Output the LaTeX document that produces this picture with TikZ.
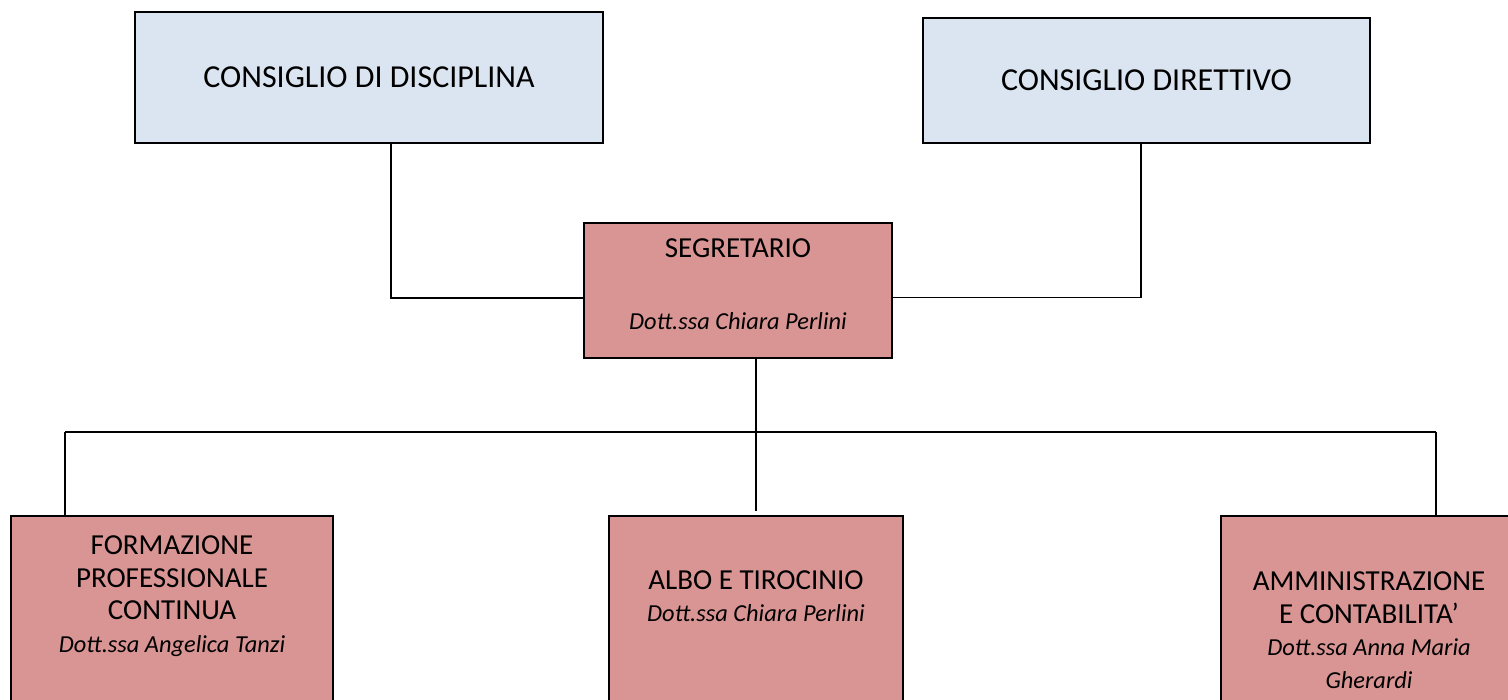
\documentclass[tikz,border=0pt]{standalone}
\usepackage{fontspec}
\setmainfont{Carlito}
\usetikzlibrary{positioning}
\definecolor{boardblue}{HTML}{DBE5F1}
\definecolor{officepink}{HTML}{D99594}
\newcommand{\officename}[1]{{\fontsize{12.2}{15}\selectfont\itshape #1}}
\begin{document}
\begin{tikzpicture}[x=0.5pt,y=-0.5pt,
        boardbox/.style={draw,line width=1.2pt,fill=boardblue,inner sep=0pt,font=\fontsize{16}{19}\selectfont},
        officebox/.style={draw,line width=1.2pt,fill=officepink,inner sep=0pt,align=center,font=\fontsize{14.5}{16.5}\selectfont},
        officetext/.style={align=center,inner sep=0pt,font=\fontsize{14.5}{16.3}\selectfont},
        link/.style={line width=0.9pt}]
    \useasboundingbox[fill=white](0,0)rectangle(1508,700);
    \clip(0,0)rectangle(1508,700);
    % consigli
    \node[boardbox,minimum width=234pt,minimum height=65.5pt] (disc) at (369,77.5) {CONSIGLIO DI DISCIPLINA};
    \node[boardbox,minimum width=223.5pt,minimum height=62.5pt] (dir) at (1146.5,80.5) {CONSIGLIO DIRETTIVO};
    % segretario
    \node[officebox,minimum width=154pt,minimum height=67.5pt,text depth=6pt] (seg) at (738,290.5) {SEGRETARIO\\[19.5pt]\officename{Dott.ssa Chiara Perlini}};
    % uffici (tagliati in basso)
    \node[officebox,minimum width=161pt,minimum height=112pt] (fpc) at (172,628) {};
    \node[officebox,minimum width=147pt,minimum height=112pt] (albo) at (756,628) {};
    \node[officebox,minimum width=148pt,minimum height=112pt] (amm) at (1369,628) {};
    \node[officetext] (fpctext) at (172,596) {FORMAZIONE\\PROFESSIONALE\\CONTINUA\\\officename{Dott.ssa Angelica Tanzi}};
    \node[officetext] (albotext) at (756,596) {ALBO E TIROCINIO\\\officename{Dott.ssa Chiara Perlini}};
    \node[officetext] (ammtext) at (1369,630) {AMMINISTRAZIONE\\E CONTABILITA'\\\officename{Dott.ssa Anna Maria}\\\officename{Gherardi}};
    % collegamenti
    \coordinate (busL) at (65,432);
    \coordinate (busR) at (1436,432);
    \coordinate (albotop) at (756,511);
    \draw[link]([xshift=11pt]disc.south)|-([yshift=-3.75pt]seg.west);
    \draw[link]([xshift=-2.75pt]dir.south)|-([yshift=-3.5pt]seg.east);
    \draw[link]([xshift=9pt]seg.south)--(albotop);
    \draw[link](busL)--(busR);
    \draw[link](busL)--(busL|-fpc.north);
    \draw[link](busR)--(busR|-amm.north);
\end{tikzpicture}
\end{document}
